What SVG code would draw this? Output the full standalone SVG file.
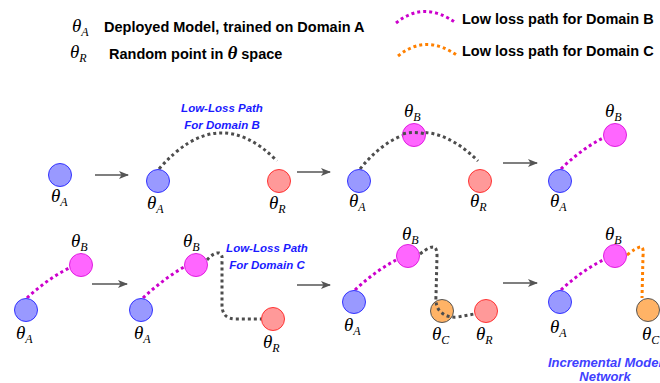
<svg xmlns="http://www.w3.org/2000/svg" width="660" height="383" viewBox="0 0 660 383">
<defs>
<marker id="ah" markerWidth="10" markerHeight="8" refX="9" refY="4" orient="auto" markerUnits="userSpaceOnUse">
<path d="M0,0 L10,4 L0,8 L2.5,4 Z" fill="#555"/>
</marker>
<style>
.bl{fill:#9999ff;stroke:#3333ff;stroke-width:1}
.mg{fill:#ff66ff;stroke:#e01ee0;stroke-width:1}
.rd{fill:#ff9999;stroke:#ff3333;stroke-width:1}
.or{fill:#ffb366;stroke:#555;stroke-width:1}
.gp{fill:none;stroke:#4d4d4d;stroke-width:3;stroke-dasharray:3 3}
.mp{fill:none;stroke:#cc00cc;stroke-width:3;stroke-dasharray:3 3}
.op{fill:none;stroke:#ff8000;stroke-width:3;stroke-dasharray:3 3}
.ar{fill:none;stroke:#555;stroke-width:1.5;marker-end:url(#ah)}
.th{font-family:"Liberation Serif",serif;font-style:italic;font-size:19px;fill:#000}
.sb{font-size:12px}
.lg{font-family:"Liberation Sans",Arial,sans-serif;font-weight:bold;font-size:14.5px;fill:#000}
.bt{font-family:"Liberation Sans",Arial,sans-serif;font-weight:bold;font-style:italic;font-size:11.5px;fill:#1a1aff;text-anchor:middle}
.it{font-family:"Liberation Sans",Arial,sans-serif;font-weight:bold;font-style:italic;font-size:13px;fill:#4040ff;text-anchor:middle}
</style>
</defs>
<rect width="660" height="383" fill="#fff"/>

<g id="legend">
<text class="th" x="72" y="32">θ<tspan class="sb" dy="4">A</tspan></text>
<text class="lg" x="104" y="32">Deployed Model, trained on Domain A</text>
<text class="th" x="70" y="58">θ<tspan class="sb" dy="4">R</tspan></text>
<text class="lg" x="109" y="59">Random point in <tspan class="th" font-size="18">θ</tspan> space</text>
<path class="mp" d="M396,23 Q424,0 456,23"/>
<text class="lg" x="462" y="24">Low loss path for Domain B</text>
<path class="op" d="M398,56 Q426,33 458,56"/>
<text class="lg" x="462" y="56">Low loss path for Domain C</text>
</g>

<g id="connectors">
<line class="ar" x1="95" y1="175" x2="128" y2="175"/>
<line class="ar" x1="297" y1="172" x2="330" y2="172"/>
<line class="ar" x1="503" y1="163" x2="537" y2="163"/>
<line class="ar" x1="92" y1="284" x2="127" y2="284"/>
<line class="ar" x1="297" y1="285" x2="330" y2="285"/>
<line class="ar" x1="503" y1="283" x2="537" y2="283"/>
<path class="gp" d="M159,169 Q218,101 277,161"/>
<path class="gp" d="M360,169 Q416,100 478,161"/>
<path class="mp" d="M561,169 Q580,150 603,138"/>
<path class="mp" d="M27,298 Q46,280 69,268"/>
<path class="mp" d="M143,298 Q162,280 184,267"/>
<path class="gp" d="M207,260 Q214,252 219,253 Q223,254 222,262 L222,305 Q222,319 236,319 L262,319"/>
<path class="mp" d="M355,290 Q374,272 396,260"/>
<path class="mp" d="M561,290 Q580,272 603,260"/>
<path class="op" d="M627,255 Q637,247 641,247 Q644,248 643,256 L642,298"/>
</g>

<g id="r1p1">
<circle class="bl" cx="60" cy="175" r="11.5"/>
<text class="th" x="51" y="202">θ<tspan class="sb" dy="4">A</tspan></text>
</g>
<g id="r1p2">
<circle class="bl" cx="158" cy="181" r="11.5"/>
<circle class="rd" cx="279" cy="181" r="11.5"/>
<text class="th" x="147" y="209">θ<tspan class="sb" dy="4">A</tspan></text>
<text class="th" x="269" y="209">θ<tspan class="sb" dy="4">R</tspan></text>
<text class="bt" x="222" y="112">Low-Loss Path</text>
<text class="bt" x="222" y="129">For Domain B</text>
</g>
<g id="r1p3">
<circle class="bl" cx="359" cy="181" r="11.5"/>
<circle class="mg" cx="414" cy="135" r="11.5"/>
<circle class="rd" cx="480" cy="181" r="11.5"/>
<path class="gp" d="M403,134 Q414,131 425,134"/>
<text class="th" x="404" y="117">θ<tspan class="sb" dy="4">B</tspan></text>
<text class="th" x="349" y="207">θ<tspan class="sb" dy="4">A</tspan></text>
<text class="th" x="470" y="207">θ<tspan class="sb" dy="4">R</tspan></text>
</g>
<g id="r1p4">
<circle class="bl" cx="560" cy="181" r="11.5"/>
<circle class="mg" cx="615" cy="135" r="11.5"/>
<text class="th" x="605" y="117">θ<tspan class="sb" dy="4">B</tspan></text>
<text class="th" x="550" y="207">θ<tspan class="sb" dy="4">A</tspan></text>
</g>

<g id="r2p1">
<circle class="bl" cx="26" cy="310" r="11.5"/>
<circle class="mg" cx="81" cy="265" r="11.5"/>
<text class="th" x="71" y="247">θ<tspan class="sb" dy="4">B</tspan></text>
<text class="th" x="16" y="339">θ<tspan class="sb" dy="4">A</tspan></text>
</g>
<g id="r2p2">
<circle class="bl" cx="141" cy="310" r="11.5"/>
<circle class="mg" cx="196" cy="265" r="11.5"/>
<circle class="rd" cx="273" cy="319" r="11.5"/>
<text class="th" x="183" y="247">θ<tspan class="sb" dy="4">B</tspan></text>
<text class="th" x="134" y="339">θ<tspan class="sb" dy="4">A</tspan></text>
<text class="th" x="263" y="348">θ<tspan class="sb" dy="4">R</tspan></text>
<text class="bt" x="267" y="252">Low-Loss Path</text>
<text class="bt" x="267" y="269">For Domain C</text>
</g>
<g id="r2p3">
<circle class="bl" cx="354" cy="302" r="11.5"/>
<circle class="mg" cx="408" cy="256" r="11.5"/>
<circle class="or" cx="442" cy="311" r="11.5"/>
<circle class="rd" cx="486" cy="311" r="11.5"/>
<path class="gp" d="M420,254 Q430,246 434,247 Q437,248 437,256 L436,296 Q435,308 442,313 Q448,318 458,317 L474,314"/>
<text class="th" x="402" y="240">θ<tspan class="sb" dy="4">B</tspan></text>
<text class="th" x="344" y="331">θ<tspan class="sb" dy="4">A</tspan></text>
<text class="th" x="432" y="340">θ<tspan class="sb" dy="4">C</tspan></text>
<text class="th" x="476" y="340">θ<tspan class="sb" dy="4">R</tspan></text>
</g>
<g id="r2p4">
<circle class="bl" cx="560" cy="302" r="11.5"/>
<circle class="mg" cx="615" cy="256" r="11.5"/>
<circle class="or" cx="648" cy="310" r="11.5"/>
<text class="th" x="605" y="240">θ<tspan class="sb" dy="4">B</tspan></text>
<text class="th" x="550" y="333">θ<tspan class="sb" dy="4">A</tspan></text>
<text class="th" x="642" y="340">θ<tspan class="sb" dy="4">C</tspan></text>
<text class="it" x="605" y="367">Incremental Model</text>
<text class="it" x="605" y="381">Network</text>
</g>
</svg>
